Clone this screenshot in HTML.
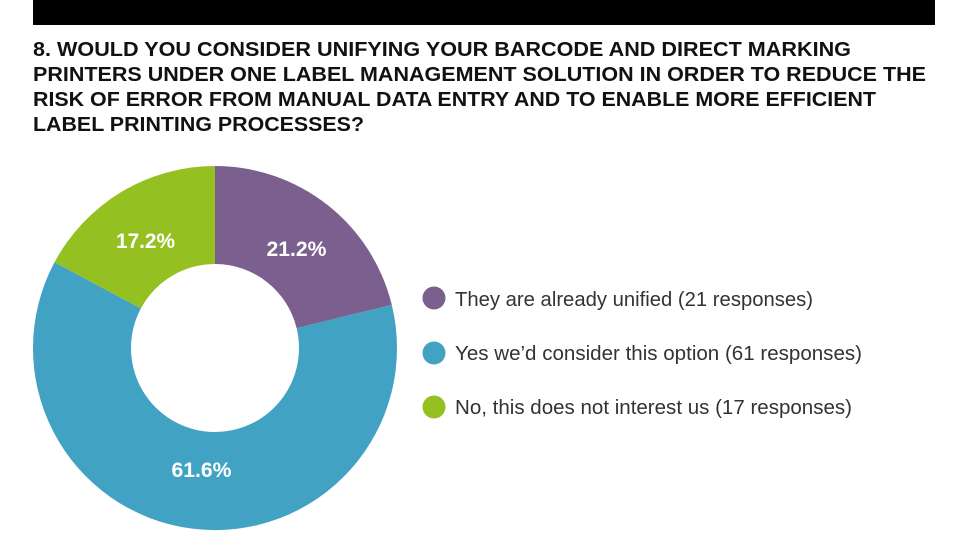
<!DOCTYPE html>
<html><head><meta charset="utf-8"><style>
html,body{margin:0;padding:0;background:#fff;width:971px;height:550px;overflow:hidden}
</style></head><body>
<svg width="971" height="550" xmlns="http://www.w3.org/2000/svg" style="display:block">
<rect x="33" y="0" width="902" height="25" fill="#000"/>
<g font-family="'Liberation Sans', Arial, sans-serif" font-weight="bold" font-size="20" fill="#111">
<text x="33" y="56" textLength="818" lengthAdjust="spacingAndGlyphs">8. WOULD YOU CONSIDER UNIFYING YOUR BARCODE AND DIRECT MARKING</text>
<text x="33" y="81" textLength="893" lengthAdjust="spacingAndGlyphs">PRINTERS UNDER ONE LABEL MANAGEMENT SOLUTION IN ORDER TO REDUCE THE</text>
<text x="33" y="106" textLength="843" lengthAdjust="spacingAndGlyphs">RISK OF ERROR FROM MANUAL DATA ENTRY AND TO ENABLE MORE EFFICIENT</text>
<text x="33" y="131" textLength="331" lengthAdjust="spacingAndGlyphs">LABEL PRINTING PROCESSES?</text>
</g>
<path d="M215,166 A182,182 0 0 1 391.8,304.9 L296.6,328.1 A84,84 0 0 0 215,264 Z" fill="#7b5f8f"/>
<path d="M391.8,304.9 A182,182 0 1 1 54.5,262.3 L140.9,308.4 A84,84 0 1 0 296.6,328.1 Z" fill="#42a2c3"/>
<path d="M54.5,262.3 A182,182 0 0 1 215,166 L215,264 A84,84 0 0 0 140.9,308.4 Z" fill="#94c121"/>
<g font-family="'Liberation Sans', Arial, sans-serif" font-weight="bold" font-size="21" fill="#fff" text-anchor="middle">
<text x="296.5" y="256" textLength="60" lengthAdjust="spacingAndGlyphs">21.2%</text>
<text x="145.5" y="248" textLength="59" lengthAdjust="spacingAndGlyphs">17.2%</text>
<text x="201.5" y="477" textLength="60" lengthAdjust="spacingAndGlyphs">61.6%</text>
</g>
<circle cx="434" cy="298" r="11.5" fill="#7b5f8f"/>
<circle cx="434" cy="353" r="11.5" fill="#42a2c3"/>
<circle cx="434" cy="407" r="11.5" fill="#94c121"/>
<g font-family="'Liberation Sans', Arial, sans-serif" font-size="20" fill="#333">
<text x="455" y="306" textLength="358" lengthAdjust="spacingAndGlyphs">They are already unified (21 responses)</text>
<text x="455" y="360" textLength="407" lengthAdjust="spacingAndGlyphs">Yes we’d consider this option (61 responses)</text>
<text x="455" y="414" textLength="397" lengthAdjust="spacingAndGlyphs">No, this does not interest us (17 responses)</text>
</g>
</svg>
</body></html>
